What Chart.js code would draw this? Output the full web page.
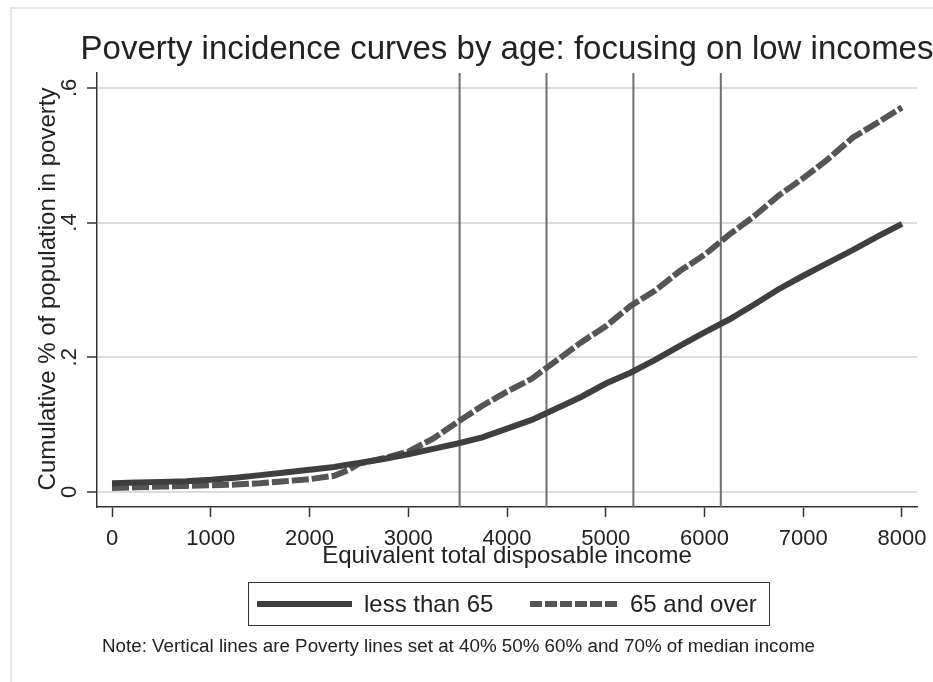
<!DOCTYPE html>
<html>
<head>
<meta charset="utf-8">
<script src="https://cdn.jsdelivr.net/npm/chart.js@4.4.0/dist/chart.umd.min.js"></script>
<style>
  html, body { margin: 0; padding: 0; background: #fff; }
  #wrap { width: 933px; height: 682px; }
</style>
</head>
<body>
<div id="wrap"><canvas id="chart" width="933" height="682"></canvas></div>
<script>
  // Income grid (x) and cumulative share in poverty for each age group
  const incomes = [0, 250, 500, 750, 1000, 1250, 1500, 1750, 2000, 2250, 2400, 2500, 2750, 3000, 3250, 3500, 3750,
                   4000, 4250, 4500, 4750, 5000, 5250, 5500, 5750, 6000, 6250, 6500, 6750, 7000, 7250, 7500, 7750, 8000];
  const under65 = [0.013, 0.014, 0.015, 0.016, 0.018, 0.021, 0.025, 0.029, 0.033, 0.037, 0.041, 0.043, 0.049, 0.056, 0.064, 0.072, 0.081,
                   0.094, 0.107, 0.124, 0.141, 0.161, 0.177, 0.196, 0.217, 0.237, 0.256, 0.278, 0.301, 0.321, 0.340, 0.359, 0.379, 0.398];
  const over65  = [0.006, 0.007, 0.008, 0.009, 0.010, 0.011, 0.013, 0.016, 0.019, 0.024, 0.033, 0.042, 0.050, 0.060, 0.079, 0.104, 0.128,
                   0.149, 0.168, 0.195, 0.222, 0.246, 0.276, 0.299, 0.328, 0.352, 0.382, 0.409, 0.440, 0.466, 0.494, 0.526, 0.548, 0.571];
  const povertyLines = [3520, 4400, 5280, 6165];

  const xTicks = [0, 1000, 2000, 3000, 4000, 5000, 6000, 7000, 8000];
  const yTicks = [0, 0.2, 0.4, 0.6];
  const yTickLabels = ['0', '.2', '.4', '.6'];

  const seriesNames = ['less than 65', '65 and over'];
  const titleText = 'Poverty incidence curves by age: focusing on low incomes';
  const xTitle = 'Equivalent total disposable income';
  const yTitle = 'Cumulative % of population in poverty';
  const noteText = 'Note: Vertical lines are Poverty lines set at 40% 50% 60% and 70% of median income';

  const FONT = '"Liberation Sans", Arial, sans-serif';
  const solidColor = '#3f3f3f';
  const dashColor = '#555555';
  const dashPattern = [17, 3];

  const toPoints = (xs, ys) => xs.map((x, i) => ({ x: x, y: ys[i] }));

  const datasets = [
    {
      label: seriesNames[0], data: toPoints(incomes, under65),
      borderColor: solidColor, borderWidth: 6, pointRadius: 0, tension: 0, order: 1
    },
    {
      label: seriesNames[1], data: toPoints(incomes, over65),
      borderColor: dashColor, borderWidth: 6, borderDash: dashPattern, pointRadius: 0, tension: 0, order: 2
    }
  ];
  povertyLines.forEach(v => {
    datasets.push({
      label: 'pl', data: [{ x: v, y: -0.1 }, { x: v, y: 0.8 }],
      borderColor: '#6e6e6e', borderWidth: 2, pointRadius: 0, order: 3
    });
  });

  const textPlugin = {
    id: 'stataText',
    beforeDraw(chart) {
      const ctx = chart.ctx;
      ctx.save();
      ctx.fillStyle = '#fff';
      ctx.fillRect(0, 0, chart.width, chart.height);
      // outer graph frame
      ctx.strokeStyle = '#dedede';
      ctx.lineWidth = 1.5;
      ctx.beginPath();
      ctx.moveTo(11, 682); ctx.lineTo(11, 8); ctx.lineTo(933, 8);
      ctx.stroke();
      ctx.restore();
    },
    afterDraw(chart) {
      const ctx = chart.ctx;
      const xs = chart.scales.x, ys = chart.scales.y;
      ctx.save();
      ctx.fillStyle = '#222';

      // title
      ctx.font = '33px ' + FONT;
      ctx.textAlign = 'center';
      ctx.textBaseline = 'alphabetic';
      ctx.fillText(titleText, 507, 59);

      // x tick labels
      ctx.font = '22px ' + FONT;
      xTicks.forEach(v => ctx.fillText(String(v), xs.getPixelForValue(v), 545));

      // y tick labels (rotated)
      yTicks.forEach((v, i) => {
        ctx.save();
        ctx.translate(76, ys.getPixelForValue(v));
        ctx.rotate(-Math.PI / 2);
        ctx.fillText(yTickLabels[i], 0, 0);
        ctx.restore();
      });

      // axis titles
      ctx.font = '24px ' + FONT;
      ctx.fillText(xTitle, 507, 563);
      ctx.save();
      ctx.translate(55, 289);
      ctx.rotate(-Math.PI / 2);
      ctx.fillText(yTitle, 0, 0);
      ctx.restore();

      // legend
      ctx.strokeStyle = '#333';
      ctx.lineWidth = 1;
      ctx.strokeRect(248.5, 582.5, 521, 43);
      ctx.lineWidth = 6;
      ctx.strokeStyle = solidColor;
      ctx.beginPath(); ctx.moveTo(257, 604); ctx.lineTo(352, 604); ctx.stroke();
      ctx.strokeStyle = dashColor;
      ctx.setLineDash([12, 3]);
      ctx.beginPath(); ctx.moveTo(530, 604); ctx.lineTo(620, 604); ctx.stroke();
      ctx.setLineDash([]);
      ctx.textAlign = 'left';
      ctx.fillText(seriesNames[0], 364, 612);
      ctx.fillText(seriesNames[1], 630, 612);

      // note
      ctx.font = '18.8px ' + FONT;
      ctx.fillText(noteText, 102, 652);
      ctx.restore();
    }
  };

  new Chart(document.getElementById('chart'), {
    type: 'line',
    data: { datasets: datasets },
    options: {
      responsive: false,
      animation: false,
      layout: { padding: { left: 0, right: 16, top: 73, bottom: 0 } },
      plugins: { legend: { display: false }, tooltip: { enabled: false }, title: { display: false } },
      scales: {
        x: {
          type: 'linear', min: -152, max: 8152,
          afterFit: s => { s.height = 175; },
          afterBuildTicks: s => { s.ticks = xTicks.map(v => ({ value: v })); },
          ticks: { display: false },
          grid: { drawOnChartArea: false, drawTicks: true, tickLength: 10, tickColor: '#333', tickWidth: 1.5 },
          border: { color: '#333', width: 1.5 }
        },
        y: {
          min: -0.0223, max: 0.622,
          afterFit: s => { s.width = 97; },
          afterBuildTicks: s => { s.ticks = yTicks.map(v => ({ value: v })); },
          ticks: { display: false },
          grid: { color: '#dcdcdc', lineWidth: 2, tickLength: 10, tickColor: '#333', tickWidth: 1.5 },
          border: { color: '#333', width: 1.5 }
        }
      }
    },
    plugins: [textPlugin]
  });
</script>
</body>
</html>
